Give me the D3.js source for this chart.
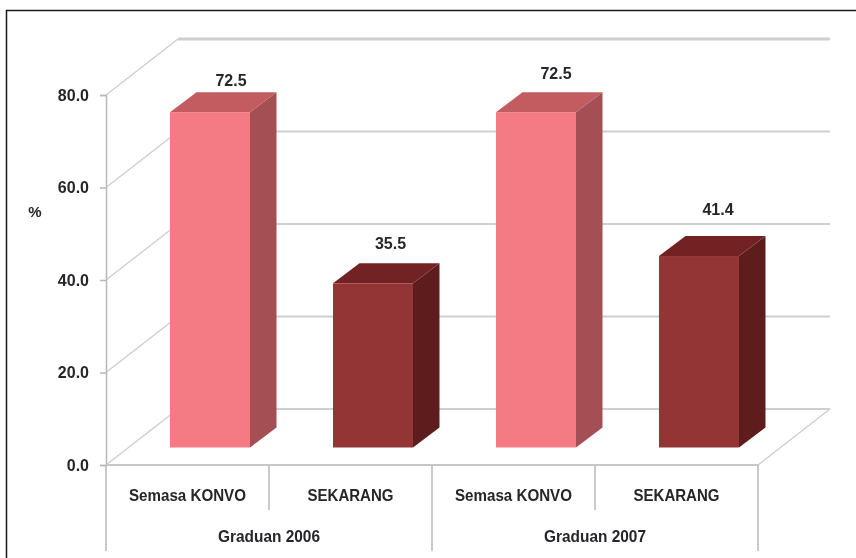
<!DOCTYPE html>
<html>
<head>
<meta charset="utf-8">
<script src="https://cdn.jsdelivr.net/npm/d3@7/dist/d3.min.js"></script>
<style>
  html, body { margin: 0; padding: 0; background: #fff; }
  svg { display: block; }
  text { font-family: "Liberation Sans", Arial, sans-serif; font-weight: bold; fill: #26262c; }
</style>
</head>
<body>
<div class="chart"></div>
<script>
var categories = ['Semasa KONVO', 'SEKARANG', 'Semasa KONVO', 'SEKARANG'];
var groups = ['Graduan 2006', 'Graduan 2007'];
var values = [72.5, 35.5, 72.5, 41.4];
var yTicks = [0, 20, 40, 60, 80];

var width = 856, height = 558;
var plot = {left: 106, right: 758, top: 95, bottom: 465};
var depth = {x: 72, y: 56}; // wall offset of the fake 3d box
var barDepth = {x: 26.5, y: 20};
var barWidth = 80;
var barShift = {x: 22.5, y: 17.5}; // bars stand in the middle of the floor

// excel put the data labels by hand, they don't sit at a fixed distance
var labelNudge = [{x: 21, y: 26}, {x: 17.5, y: 34}, {x: 20, y: 33}, {x: 19, y: 41}];

var palette = [
  {front: '#f47a84', top: '#c35b60', side: '#a34f53'},
  {front: '#933636', top: '#722424', side: '#5e1f1f'}
];

var x = d3.scaleBand()
  .domain(d3.range(categories.length))
  .range([plot.left, plot.right]);

var xGroup = d3.scaleBand()
  .domain(groups)
  .range([plot.left, plot.right]);

var y = d3.scaleLinear()
  .domain([0, 80])
  .range([plot.bottom, plot.top]);

var svg = d3.select('.chart').append('svg')
  .attr('width', width)
  .attr('height', height);

// jpeg softness of the original
var defs = svg.append('defs');
defs.append('filter').attr('id', 'soft')
  .append('feGaussianBlur').attr('stdDeviation', 0.6);

svg.append('path')
  .attr('d', `M6.5,${height}V10.5H${width}`)
  .attr('fill', 'none')
  .attr('stroke', '#1a1a1a')
  .attr('stroke-width', 1.5);

var chart = svg.append('g').attr('filter', 'url(#soft)');

// walls
var grid = chart.append('g')
  .attr('fill', 'none')
  .attr('stroke', '#cfcfcf');

grid.selectAll('.diag')
  .data(yTicks)
  .enter().append('line')
    .attr('class', 'diag')
    .attr('x1', plot.left)
    .attr('y1', d => y(d))
    .attr('x2', plot.left + depth.x)
    .attr('y2', d => y(d) - depth.y)
    .attr('stroke-width', 1.5);

grid.selectAll('.back')
  .data(yTicks)
  .enter().append('line')
    .attr('class', 'back')
    .attr('x1', plot.left + depth.x)
    .attr('y1', d => y(d) - depth.y)
    .attr('x2', plot.right + depth.x)
    .attr('y2', d => y(d) - depth.y)
    .attr('stroke-width', d => d === 80 ? 3 : 2);

// floor edge
grid.append('line')
  .attr('x1', plot.right + depth.x).attr('y1', y(0) - depth.y)
  .attr('x2', plot.right).attr('y2', y(0))
  .attr('stroke-width', 1.5);

// axes
var axisColor = '#b8b8b8';
var yAxis = chart.append('g')
  .attr('transform', `translate(${plot.left},0)`)
  .call(d3.axisLeft(y).tickValues(yTicks).tickFormat(d3.format('.1f')).tickSize(6).tickPadding(11));
yAxis.select('.domain').attr('stroke', axisColor).attr('stroke-width', 1.5);
yAxis.selectAll('.tick line').attr('stroke', axisColor).attr('stroke-width', 1.5);
yAxis.selectAll('text')
  .attr('font-size', 16)
  .attr('font-family', null)
  .attr('fill', null);

chart.append('line')
  .attr('x1', plot.left).attr('x2', plot.right)
  .attr('y1', y(0)).attr('y2', y(0))
  .attr('stroke', '#c8c8c8').attr('stroke-width', 2);

// multi level category dividers
var dividers = chart.append('g').attr('stroke', axisColor).attr('stroke-width', 1.5);
dividers.selectAll('line')
  .data(d3.range(categories.length + 1))
  .enter().append('line')
    .attr('x1', d => plot.left + d * x.step())
    .attr('x2', d => plot.left + d * x.step())
    .attr('y1', y(0))
    .attr('y2', d => d % 2 === 0 ? 551 : 510);

// bars
var bars = chart.selectAll('.bar')
  .data(values)
  .enter().append('g')
    .attr('class', 'bar');

var barLeft = (d, i) => x(i) + (x.bandwidth() - barWidth) / 2 + barShift.x;
var barBase = y(0) - barShift.y;
var barTop = d => y(d) - barShift.y;

bars.append('path') // side
  .attr('d', function(d, i) {
    var r = barLeft(d, i) + barWidth;
    return `M${r},${barTop(d)}l${barDepth.x},${-barDepth.y}V${barBase - barDepth.y}l${-barDepth.x},${barDepth.y}Z`;
  })
  .attr('fill', (d, i) => palette[i % 2].side);

bars.append('path') // top
  .attr('d', function(d, i) {
    var l = barLeft(d, i);
    return `M${l},${barTop(d)}l${barDepth.x},${-barDepth.y}h${barWidth}l${-barDepth.x},${barDepth.y}Z`;
  })
  .attr('fill', (d, i) => palette[i % 2].top);

bars.append('rect') // front
  .attr('x', barLeft)
  .attr('y', barTop)
  .attr('width', barWidth)
  .attr('height', d => barBase - barTop(d))
  .attr('fill', (d, i) => palette[i % 2].front);

bars.append('text')
  .attr('x', (d, i) => barLeft(d, i) + barWidth / 2 + labelNudge[i].x)
  .attr('y', (d, i) => barTop(d) - labelNudge[i].y)
  .attr('text-anchor', 'middle')
  .attr('font-size', 16)
  .text(d3.format('.1f'));

// labels
chart.selectAll('.cat')
  .data(categories)
  .enter().append('text')
    .attr('class', 'cat')
    .attr('x', (d, i) => x(i) + x.bandwidth() / 2)
    .attr('y', 501)
    .attr('text-anchor', 'middle')
    .attr('font-size', 16.5)
    .attr('textLength', d => d === 'SEKARANG' ? 86 : 117)
    .attr('lengthAdjust', 'spacingAndGlyphs')
    .text(d => d);

chart.selectAll('.group')
  .data(groups)
  .enter().append('text')
    .attr('class', 'group')
    .attr('x', d => xGroup(d) + xGroup.bandwidth() / 2)
    .attr('y', 542)
    .attr('text-anchor', 'middle')
    .attr('font-size', 16.5)
    .attr('textLength', 102)
    .attr('lengthAdjust', 'spacingAndGlyphs')
    .text(d => d);

chart.append('text')
  .attr('x', 35)
  .attr('y', 217)
  .attr('text-anchor', 'middle')
  .attr('font-size', 15)
  .text('%');
</script>
</body>
</html>
